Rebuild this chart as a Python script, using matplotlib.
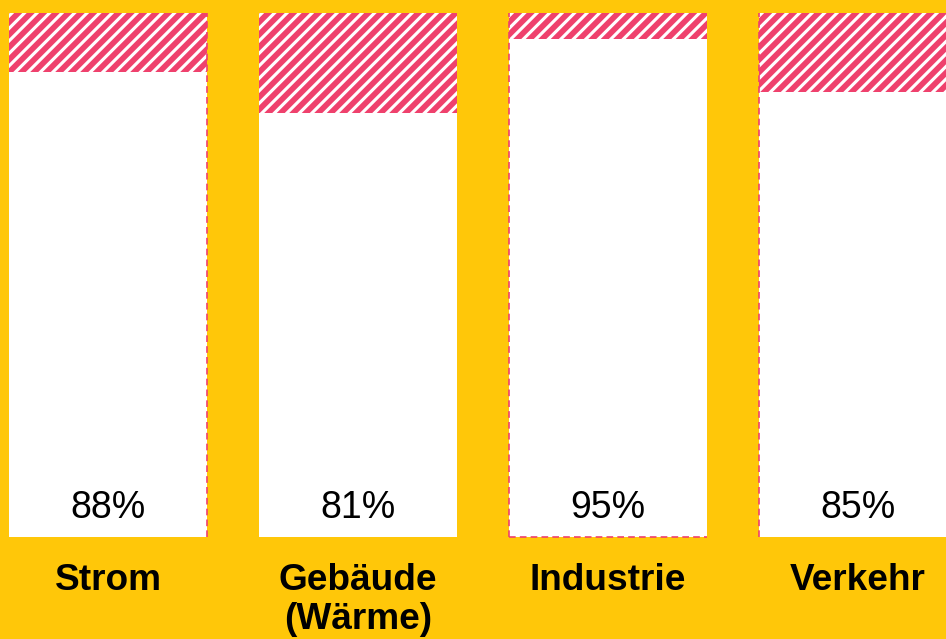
import matplotlib
matplotlib.use("Agg")
import matplotlib.pyplot as plt

# data
sectors = ["Strom", "Gebäude\n(Wärme)", "Industrie", "Verkehr"]
share = [88.7, 81, 95, 85]          # white part, percent (as drawn)
labels = ["88%", "81%", "95%", "85%"]
dashed_sides = [["right"], [], ["left", "bottom"], ["left"]]

yellow = "#FFC709"
pink = "#EF416D"

plt.rcParams["font.family"] = ["Liberation Sans", "DejaVu Sans"]
plt.rcParams["hatch.linewidth"] = 3.0
plt.rcParams["hatch.color"] = "white"

dpi = 75
fig = plt.figure(figsize=(946 / dpi, 639 / dpi), dpi=dpi, facecolor=yellow)
ax = fig.add_axes([0, 0, 1, 1])
ax.set_facecolor(yellow)

x = list(range(len(sectors)))
w = 0.792
rest = [100 - s for s in share]

ax.bar(x, share, width=w, color="white", linewidth=0)
ax.bar(x, rest, bottom=share, width=w, color=pink, hatch="//", edgecolor="white", linewidth=0)

for i, sides in enumerate(dashed_sides):
    l, r = x[i] - w / 2, x[i] + w / 2
    for s in sides:
        if s == "left":
            ax.plot([l, l], [0, 100], color=pink, lw=1.6, ls=(0, (4, 2.5)))
        elif s == "right":
            ax.plot([r, r], [0, 100], color=pink, lw=1.6, ls=(0, (4, 2.5)))
        elif s == "bottom":
            ax.plot([l, r], [0, 0], color=pink, lw=1.6, ls=(0, (4, 2.5)))

for i in x:
    ax.text(i, 3.6, labels[i], ha="center", va="baseline", fontsize=36, color="black")
    ax.text(i, -5.0, sectors[i], ha="center", va="top", fontsize=35.5, fontweight="bold",
            color="black", linespacing=1.15)

ax.set_xlim(-108 / 250, (946 - 108) / 250)
ax.set_ylim(-(639 - 537) / 5.24, 100 + 13 / 5.24)
ax.axis("off")

fig.savefig("out.png", dpi=dpi, facecolor=yellow)
